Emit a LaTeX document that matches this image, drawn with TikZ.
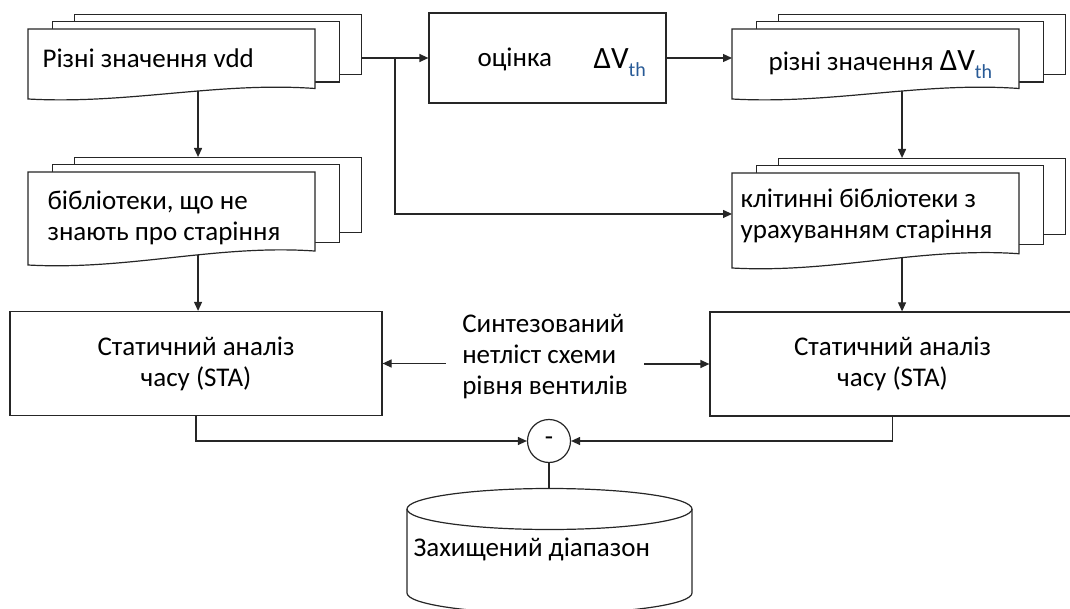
\documentclass[tikz,border=0pt]{standalone}
\usepackage{fontspec}
\setmainfont{Carlito}
\usetikzlibrary{arrows.meta, positioning}

\definecolor{thblue}{RGB}{40,90,150}

% Delta V_th as it is typed in the boxes
\newcommand{\dvth}{{\fontsize{31}{34}\selectfont ΔV}\raisebox{-8pt}{\fontsize{20}{22}\selectfont\textcolor{thblue}{th}}}

% stack of three sheets: name, left x, top y, height of the front sheet
\newcommand{\docstack}[4]{%
  \pgfmathsetmacro{\dsBackH}{0.64*#4+15}
  \pgfmathsetmacro{\dsMidH}{0.75*#4+8}
  \pgfmathsetmacro{\dsRight}{#3+0.85*#4}
  \pgfmathsetmacro{\dsLow}{#3+#4}
  \pgfmathsetmacro{\dsFrontH}{0.85*#4}
  \node (#1-back) [sheet, minimum height=\dsBackH pt, anchor=north west] at (#2+46,#3-15) {};
  \node (#1-mid) [sheet, minimum height=\dsMidH pt, anchor=north west] at (#2+24,#3-8) {};
  \draw [fill=white] (#2,#3) -- (#2+287,#3) -- (#2+287,\dsRight)
    .. controls (#2+190,\dsRight-7) and (#2+100,\dsLow+5.6) .. (#2,\dsLow)
    coordinate[pos=0.41] (#1-wave) -- cycle;
  \node (#1) [inner sep=0pt, minimum width=287pt, minimum height=\dsFrontH pt, anchor=north west] at (#2,#3) {};
}

\begin{document}
\begin{tikzpicture}[
    x=1pt, y=-1pt,
    line width=1.2pt,
    draw=black!85,
    font=\fontsize{27}{31}\selectfont,
    sheet/.style={draw, fill=white, inner sep=0pt, minimum width=287pt},
    procbox/.style={draw, inner sep=0pt},
    txt/.style={inner sep=0pt, align=left},
    arr/.style={-{Triangle[length=9pt, width=8pt]}}
  ]

  \useasboundingbox (0,0) rectangle (1070,609);
  \clip (0,0) rectangle (1070,609);

  % ==================== DOCUMENTS ====================

  \docstack{Vdd}{28}{29}{70}
  \docstack{VthVals}{732}{29}{70}
  \docstack{NoAgeLib}{28}{172}{93}
  \docstack{CellLib}{732}{173}{95}

  \node (VddText) [txt, anchor=base west] at (42,68) {Різні значення vdd};
  \node (VthText) [txt, anchor=base west] at (768,71) {різні значення \dvth};
  \node (NoAgeText) [txt, anchor=west] at (47,218) {бібліотеки, що не\\знають про старіння};
  \node (CellText) [txt, anchor=west] at (740,216) {клітинні бібліотеки з\\урахуванням старіння};

  % ==================== PROCESSING ====================

  \node (Estimate) [procbox, minimum width=237pt, minimum height=90pt] at (547.5,58) {};
  \node (EstText) [txt, anchor=base west] at (477,67) {оцінка};
  \node (EstVth) [txt, anchor=base west] at (593,69) {\dvth};

  \node (StaLeft) [procbox, minimum width=372pt, minimum height=104pt, align=center] at (196,363.5) {Статичний аналіз\\часу (STA)};
  \node (StaRight) [procbox, minimum width=365pt, minimum height=104pt, align=center] at (892.5,364) {Статичний аналіз\\часу (STA)};
  \node (Netlist) [txt, inner xsep=16pt] at (545,357) {Синтезований\\нетліст схеми\\рівня вентилів};

  \node (Diff) [draw, circle, minimum size=43pt, inner sep=0pt] at (549,441) {-};

  % protected range, cut by the lower edge
  \draw (407,509) -- (407,593) arc[start angle=180, end angle=0, x radius=142.5, y radius=20.5] -- (692,509);
  \draw (549.5,509) ellipse [x radius=142.5, y radius=20.5];
  \coordinate (RangeTop) at (549,488.5);
  \node (RangeText) [txt, anchor=base west] at (413,556) {Захищений діапазон};

  % ==================== CONNECTORS ====================

  \draw[arr] (Vdd-back.east |- Estimate.west) -- (Estimate.west);
  \coordinate (Split) at (395,58);
  \draw[arr] (Split) |- (CellLib.west);
  \draw[arr] (Estimate.east) -- (Estimate.east -| VthVals.west);
  \draw[arr] (Vdd-wave) -- (Vdd-wave |- NoAgeLib-back.north);
  \draw[arr] (VthVals-wave) -- (VthVals-wave |- CellLib-back.north);
  \draw[arr] (NoAgeLib-wave) -- (NoAgeLib-wave |- StaLeft.north);
  \draw[arr] (CellLib-wave) -- (CellLib-wave |- StaRight.north);
  \draw[arr] (Netlist.west |- StaLeft.east) -- (StaLeft.east);
  \draw[arr] (Netlist.east |- StaRight.west) -- (StaRight.west);
  \draw[arr] (StaLeft.south) |- (Diff.west);
  \draw[arr] (StaRight.south) |- (Diff.east);
  \draw (Diff.south) -- (RangeTop);

\end{tikzpicture}
\end{document}
